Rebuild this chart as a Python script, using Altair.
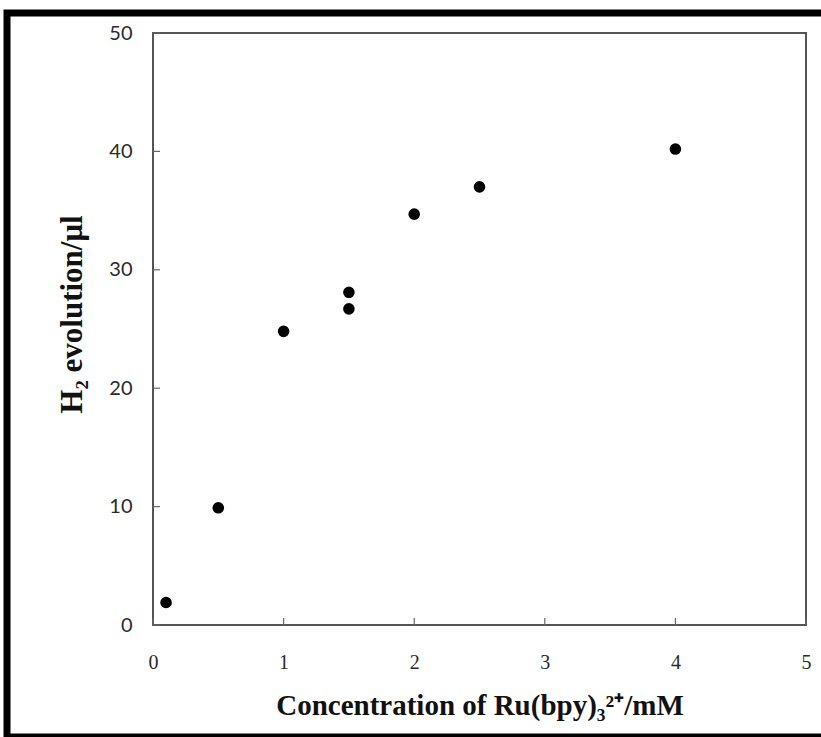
import altair as alt
import pandas as pd

# Data
conc = [0.1, 0.5, 1.0, 1.5, 1.5, 2.0, 2.5, 4.0]
h2 = [1.9, 9.9, 24.8, 28.1, 26.7, 34.7, 37.0, 40.2]
x_ticks = [0, 1, 2, 3, 4, 5]
y_ticks = [0, 10, 20, 30, 40, 50]

W, H = 653, 592

pts = pd.DataFrame({"conc": conc, "h2": h2})
xt = pd.DataFrame({"v": x_ticks})
yt = pd.DataFrame({"v": y_ticks})

xscale = alt.Scale(domain=[0, 5], nice=False, zero=False)
yscale = alt.Scale(domain=[0, 50], nice=False, zero=False)

x_axis = alt.Axis(
    values=x_ticks, format="d", grid=False, domain=False, ticks=False,
    labelFlush=False,
    labelFont="Liberation Serif", labelFontSize=20, labelColor="#2a2a2a",
    labelPadding=27,
    title="Concentration of Ru(bpy)₃²⁺/mM",
    titleFont="Liberation Serif", titleFontSize=29, titleFontWeight="bold",
    titleColor="#111", titlePadding=19,
)
y_axis = alt.Axis(
    values=y_ticks, format="d", grid=False, domain=False, ticks=False,
    labelFlush=False,
    labelFont="Lato", labelFontSize=20, labelColor="#2a2a2a",
    labelPadding=21,
    title="H₂ evolution/μl",
    titleFont="Liberation Serif", titleFontSize=31, titleFontWeight="bold",
    titleColor="#111", titlePadding=20, titleY=281,
)

points = alt.Chart(pts).mark_circle(size=135, color="black", opacity=1).encode(
    x=alt.X("conc:Q", scale=xscale, axis=x_axis),
    y=alt.Y("h2:Q", scale=yscale, axis=y_axis),
)

xticks = alt.Chart(xt).mark_rule(color="#666", strokeWidth=1.2).encode(
    x=alt.X("v:Q", scale=xscale),
    y=alt.value(H),
    y2=alt.value(H - 7),
)
yticks = alt.Chart(yt).mark_rule(color="#666", strokeWidth=1.2).encode(
    y=alt.Y("v:Q", scale=yscale),
    x=alt.value(0),
    x2=alt.value(7),
)

frame = alt.Chart(pd.DataFrame({"a": [0]})).mark_rect(
    fill=None, fillOpacity=0, stroke="black", strokeWidth=7
).encode(
    x=alt.value(-146), x2=alt.value(677),
    y=alt.value(-20), y2=alt.value(704),
)

chart = alt.layer(frame, xticks, yticks, points).properties(
    width=W, height=H,
    autosize=alt.AutoSizeParams(type="none"),
    padding={"left": 153, "top": 33, "right": 15, "bottom": 112},
    background="white",
).configure_view(stroke="#555", strokeWidth=2)

chart.save("out.html", embed_options={"renderer": "svg", "actions": False})
